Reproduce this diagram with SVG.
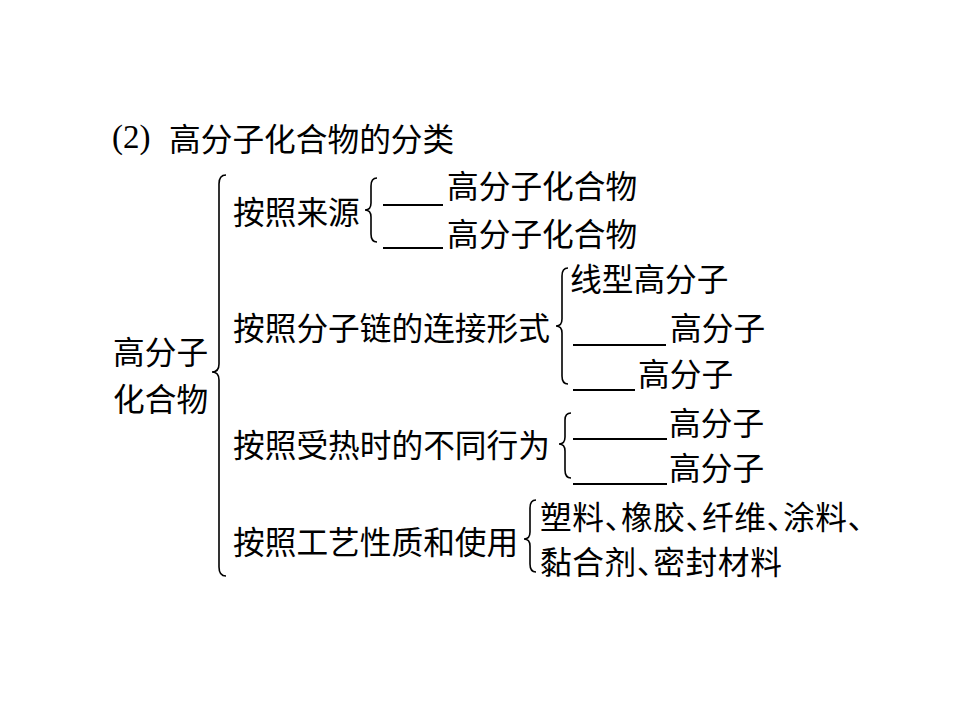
<svg xmlns="http://www.w3.org/2000/svg" width="960" height="720" viewBox="0 0 960 720">
  <style>
    .t { font-family: "Noto Sans CJK SC", "Noto Sans", sans-serif; font-size: 31.7px; fill: #000; dominant-baseline: central; }
    .h { font-feature-settings: "halt"; }
    .s { font-family: "Liberation Serif", serif; font-size: 33px; fill: #000; dominant-baseline: central; }
    .br { fill: none; stroke: #000; stroke-width: 1.6; }
    .bl { stroke: #000; stroke-width: 2; }
  </style>
  <rect width="960" height="720" fill="#fff"/>

  <!-- heading -->
  <g id="title">
    <text class="s" x="112" y="137">(2)</text>
    <text class="t" x="169" y="137">高分子化合物的分类</text>
  </g>

  <!-- root -->
  <g id="root">
    <text class="t" x="113" y="350">高分子</text>
    <text class="t" x="113" y="397">化合物</text>
  </g>

  <!-- braces -->
  <g id="connectors">
    <path class="br" d="M226,175 Q219,175 219,184 L219,364 Q219,372 212,372 Q219,372 219,380 L219,567 Q219,576 226,576"/>
    <path class="br" d="M377,178 Q371,178 371,186 L371,203 Q371,210 365,210 Q371,210 371,217 L371,234 Q371,242 377,242"/>
    <path class="br" d="M568,268 Q562,268 562,276 L562,319 Q562,326 556,326 Q562,326 562,333 L562,376 Q562,384 568,384"/>
    <path class="br" d="M571,413 Q565,413 565,420 L565,437 Q565,444 559,444 Q565,444 565,451 L565,470 Q565,478 571,478"/>
    <path class="br" d="M536,500 Q530,500 530,508 L530,532 Q530,539 524,539 Q530,539 530,546 L530,564 Q530,572 536,572"/>
  </g>

  <!-- by source -->
  <g id="source">
    <text class="t" x="233" y="210">按照来源</text>
    <line class="bl" x1="383" y1="205" x2="443" y2="205"/>
    <text class="t" x="447" y="184">高分子化合物</text>
    <line class="bl" x1="383" y1="248" x2="443" y2="248"/>
    <text class="t" x="447" y="232">高分子化合物</text>
  </g>

  <!-- by chain linkage -->
  <g id="chain">
    <text class="t" x="233" y="326">按照分子链的连接形式</text>
    <text class="t" x="570" y="277">线型高分子</text>
    <line class="bl" x1="573" y1="345" x2="666" y2="345"/>
    <text class="t" x="670" y="326">高分子</text>
    <line class="bl" x1="573" y1="390" x2="635" y2="390"/>
    <text class="t" x="638" y="372">高分子</text>
  </g>

  <!-- by heating behaviour -->
  <g id="heat">
    <text class="t" x="233" y="443">按照受热时的不同行为</text>
    <line class="bl" x1="573" y1="439" x2="667" y2="439"/>
    <text class="t" x="669" y="421">高分子</text>
    <line class="bl" x1="573" y1="484" x2="667" y2="484"/>
    <text class="t" x="669" y="466">高分子</text>
  </g>

  <!-- by process and use: half-width enumeration commas -->
  <g id="use">
    <text class="t" x="233" y="540">按照工艺性质和使用</text>
    <text class="t h" x="540" y="515" letter-spacing="0.6">塑料、橡胶、纤维、涂料、</text>
    <text class="t h" x="540" y="560" letter-spacing="0.6">黏合剂、密封材料</text>
  </g>
</svg>
